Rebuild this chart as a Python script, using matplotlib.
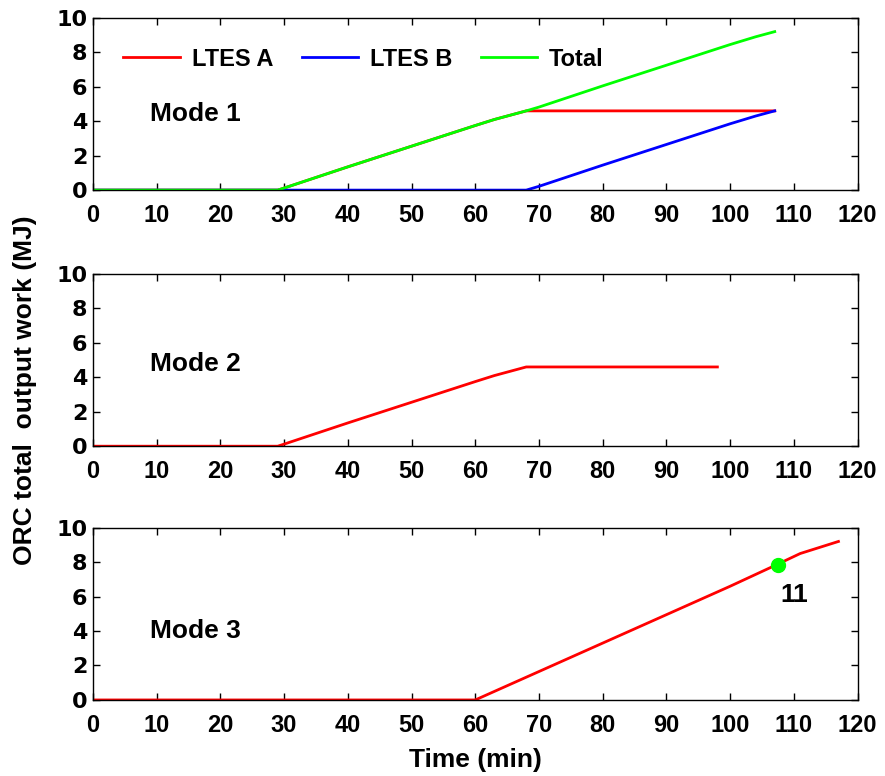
import matplotlib
matplotlib.use("Agg")
import matplotlib.pyplot as plt

# Mode 1 (LTES A, LTES B, total)
m1_t_a = [0, 29, 30, 40, 50, 60, 63, 66, 68, 107]
m1_a = [0, 0, 0.12, 1.35, 2.55, 3.75, 4.1, 4.4, 4.6, 4.6]
m1_t_b = [0, 68, 70, 80, 90, 100, 104, 107]
m1_b = [0, 0, 0.22, 1.45, 2.65, 3.85, 4.3, 4.6]
m1_t_tot = [0, 29, 30, 40, 50, 60, 63, 66, 68, 70, 80, 90, 100, 104, 107]
m1_tot = [0, 0, 0.12, 1.35, 2.55, 3.75, 4.1, 4.4, 4.6, 4.82, 6.05, 7.25, 8.45, 8.9, 9.2]

# Mode 2
m2_t = [0, 29, 30, 40, 50, 60, 63, 66, 68, 98]
m2_w = [0, 0, 0.12, 1.35, 2.55, 3.75, 4.1, 4.4, 4.6, 4.6]

# Mode 3
m3_t = [0, 60, 70, 80, 90, 100, 107, 111, 117]
m3_w = [0, 0, 1.65, 3.3, 4.95, 6.6, 7.8, 8.5, 9.2]
m3_pt = (107.5, 7.85)
m3_pt_label = "11"

xticks = list(range(0, 121, 10))
yticks = list(range(0, 11, 2))

fig = plt.figure(figsize=(8.85, 7.76), dpi=100)
left, width = 0.105, 0.864
bottoms = [0.755, 0.425, 0.098]
height = 0.222
axes = [fig.add_axes([left, b, width, height]) for b in bottoms]

xfont = dict(family="Liberation Sans", weight="bold", size=17)
yfont = dict(family="DejaVu Sans", weight="bold", size=16)

for ax in axes:
    ax.set_xlim(0, 120)
    ax.set_ylim(0, 10)
    ax.set_xticks(xticks)
    ax.set_yticks(yticks)
    ax.set_xticklabels([str(v) for v in xticks], **xfont)
    ax.set_yticklabels([str(v) for v in yticks], **yfont)
    ax.tick_params(direction="in", top=True, right=True, length=5, width=1)
    ax.tick_params(axis="x", pad=10)
    ax.tick_params(axis="y", pad=4)
    for s in ax.spines.values():
        s.set_linewidth(1)

ax1, ax2, ax3 = axes
ax1.plot(m1_t_a, m1_a, color="red", lw=2, label="LTES A")
ax1.plot(m1_t_b, m1_b, color="blue", lw=2, label="LTES B")
ax1.plot(m1_t_tot, m1_tot, color="#00ff00", lw=2, label="Total")
ax1.legend(loc="upper left", ncol=3, frameon=False, handlelength=2.4,
           handletextpad=0.5, columnspacing=1.2, bbox_to_anchor=(0.012, 0.95),
           prop=dict(family="Liberation Sans", weight="bold", size=17))
ax1.text(9, 4.4, "Mode 1", ha="left", va="center",
         family="Liberation Sans", weight="bold", size=19)

ax2.plot(m2_t, m2_w, color="red", lw=2)
ax2.text(9, 4.75, "Mode 2", ha="left", va="center",
         family="Liberation Sans", weight="bold", size=19)

ax3.plot(m3_t, m3_w, color="red", lw=2)
ax3.plot([m3_pt[0]], [m3_pt[1]], "o", color="#00ff00", ms=10)
ax3.text(110, 6.1, m3_pt_label, ha="center", va="center",
         family="Liberation Sans", weight="bold", size=19)
ax3.text(9, 4.0, "Mode 3", ha="left", va="center",
         family="Liberation Sans", weight="bold", size=19)
ax3.set_xlabel("Time (min)", family="Liberation Sans", weight="bold", size=19,
               labelpad=8)

fig.text(0.028, 0.497, "ORC total  output work (MJ)", rotation=90,
         ha="center", va="center", family="Liberation Sans", weight="bold", size=19)

fig.savefig("out.png", dpi=100)
